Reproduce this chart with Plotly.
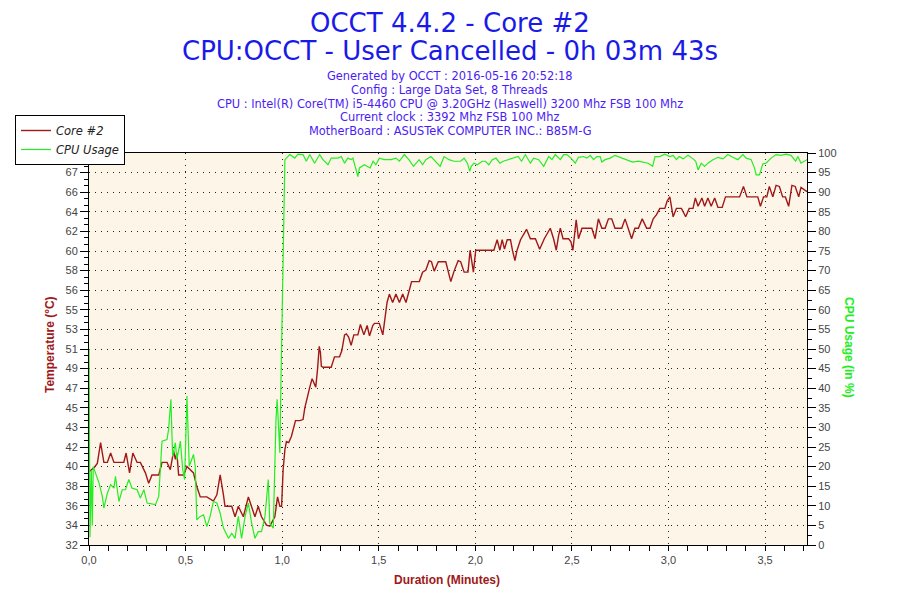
import plotly.graph_objects as go

# Core #2 temperature (deg C) over duration (minutes)
temp_t = [0.000, 0.026, 0.043, 0.060, 0.077, 0.095, 0.112, 0.129, 0.180, 0.192,
          0.210, 0.227, 0.249, 0.266, 0.292, 0.309, 0.326, 0.361, 0.378, 0.404,
          0.421, 0.438, 0.447, 0.455, 0.464, 0.490, 0.507, 0.541, 0.558, 0.576,
          0.610, 0.644, 0.662, 0.679, 0.696, 0.704, 0.739, 0.756, 0.773, 0.799,
          0.825, 0.842, 0.859, 0.876, 0.893, 0.919, 0.936, 0.962, 0.976, 0.988,
          0.997, 1.005, 1.014, 1.022, 1.034, 1.048, 1.057, 1.069, 1.091, 1.108,
          1.117, 1.131, 1.143, 1.155, 1.165, 1.174, 1.183, 1.192, 1.198, 1.203,
          1.212, 1.254, 1.271, 1.297, 1.309, 1.323, 1.332, 1.344, 1.357, 1.371,
          1.392, 1.405, 1.423, 1.440, 1.452, 1.469, 1.478, 1.503, 1.521, 1.532,
          1.543, 1.555, 1.572, 1.589, 1.607, 1.624, 1.641, 1.670, 1.710, 1.727,
          1.744, 1.761, 1.773, 1.787, 1.808, 1.847, 1.859, 1.873, 1.890, 1.911,
          1.924, 1.942, 1.962, 1.973, 1.981, 1.990, 2.002, 2.096, 2.113, 2.127,
          2.139, 2.151, 2.165, 2.182, 2.192, 2.205, 2.216, 2.234, 2.265, 2.285,
          2.311, 2.333, 2.357, 2.388, 2.405, 2.419, 2.431, 2.440, 2.454, 2.483,
          2.495, 2.505, 2.522, 2.534, 2.552, 2.603, 2.620, 2.637, 2.655, 2.672,
          2.689, 2.706, 2.723, 2.758, 2.775, 2.792, 2.809, 2.826, 2.844, 2.864,
          2.887, 2.904, 2.921, 2.938, 2.955, 2.981, 2.993, 3.007, 3.024, 3.041,
          3.067, 3.089, 3.107, 3.127, 3.139, 3.153, 3.173, 3.187, 3.204, 3.221,
          3.239, 3.256, 3.278, 3.295, 3.368, 3.388, 3.406, 3.462, 3.476, 3.492,
          3.509, 3.522, 3.540, 3.557, 3.574, 3.591, 3.605, 3.622, 3.639, 3.656,
          3.674, 3.686, 3.717]
temp_c = [39.0, 39.4, 39.8, 41.8, 39.9, 39.9, 40.8, 39.9, 39.9, 40.8,
          38.9, 40.8, 39.9, 39.9, 38.9, 37.9, 38.7, 38.7, 39.9, 39.9,
          39.2, 41.0, 40.2, 40.8, 38.7, 38.7, 39.5, 38.9, 37.6, 36.6,
          36.6, 36.2, 36.8, 38.7, 36.8, 35.7, 35.7, 34.7, 35.7, 34.7,
          36.6, 35.7, 34.7, 35.7, 34.7, 33.9, 33.8, 34.7, 36.6, 35.7,
          35.7, 39.2, 41.1, 41.9, 41.8, 42.4, 43.1, 43.9, 43.9, 44.0,
          45.1, 46.3, 47.1, 47.9, 47.4, 47.1, 48.8, 51.0, 50.4, 49.1,
          49.0, 49.0, 50.0, 50.0, 50.6, 52.1, 52.2, 51.9, 51.1, 52.1,
          52.1, 53.1, 52.1, 53.0, 52.0, 53.0, 53.2, 53.2, 52.1, 53.6,
          55.2, 56.0, 55.2, 56.0, 55.2, 56.0, 55.2, 57.2, 57.2, 58.1,
          58.3, 59.2, 59.1, 58.2, 59.1, 59.1, 58.1, 57.2, 58.2, 59.2,
          59.1, 58.1, 58.1, 60.2, 59.2, 58.1, 60.2, 60.2, 61.2, 60.2,
          61.2, 60.3, 61.2, 61.2, 60.2, 59.2, 60.2, 61.2, 62.2, 61.3,
          61.3, 60.3, 61.3, 62.3, 61.3, 60.2, 61.6, 62.3, 61.3, 61.3,
          61.0, 60.2, 63.1, 61.3, 62.3, 62.3, 61.3, 63.2, 62.3, 62.3,
          63.2, 63.2, 62.3, 62.3, 63.2, 62.3, 61.3, 62.3, 62.3, 63.2,
          62.3, 62.3, 63.2, 63.6, 64.2, 64.2, 64.9, 65.3, 63.4, 64.2,
          64.2, 63.4, 64.2, 64.2, 65.2, 64.4, 65.2, 64.4, 65.2, 64.4,
          65.2, 64.3, 64.3, 65.3, 65.3, 66.3, 65.3, 65.3, 64.4, 65.3,
          65.3, 66.3, 65.3, 66.4, 66.3, 65.3, 65.3, 64.4, 66.4, 66.3,
          65.3, 66.2, 65.8]

# CPU usage (%) over duration (minutes)
cpu_t = [0.000, 0.005, 0.012, 0.017, 0.022, 0.034, 0.052, 0.069, 0.077, 0.095,
         0.112, 0.129, 0.137, 0.155, 0.172, 0.189, 0.206, 0.223, 0.249, 0.266,
         0.284, 0.301, 0.344, 0.361, 0.378, 0.404, 0.412, 0.424, 0.433, 0.447,
         0.455, 0.473, 0.485, 0.495, 0.507, 0.519, 0.533, 0.541, 0.550, 0.558,
         0.576, 0.593, 0.610, 0.627, 0.644, 0.662, 0.679, 0.696, 0.722, 0.739,
         0.756, 0.773, 0.790, 0.808, 0.825, 0.842, 0.859, 0.876, 0.893, 0.911,
         0.928, 0.936, 0.954, 0.962, 0.968, 0.974, 0.979, 0.983, 0.988, 0.991,
         0.995, 1.001, 1.004, 1.009, 1.014, 1.040, 1.065, 1.082, 1.108, 1.125,
         1.143, 1.168, 1.194, 1.211, 1.237, 1.254, 1.289, 1.306, 1.323, 1.340,
         1.357, 1.366, 1.378, 1.383, 1.392, 1.400, 1.426, 1.455, 1.471, 1.485,
         1.503, 1.529, 1.564, 1.589, 1.607, 1.632, 1.656, 1.680, 1.709, 1.727,
         1.744, 1.770, 1.795, 1.818, 1.838, 1.864, 1.889, 1.924, 1.942, 1.959,
         1.971, 1.979, 1.993, 2.010, 2.036, 2.052, 2.070, 2.088, 2.107, 2.127,
         2.144, 2.168, 2.196, 2.222, 2.239, 2.259, 2.285, 2.302, 2.328, 2.354,
         2.380, 2.397, 2.414, 2.440, 2.457, 2.474, 2.495, 2.517, 2.534, 2.560,
         2.577, 2.595, 2.612, 2.629, 2.646, 2.655, 2.672, 2.698, 2.723, 2.749,
         2.766, 2.784, 2.814, 2.844, 2.869, 2.895, 2.918, 2.930, 2.955, 2.981,
         3.007, 3.024, 3.041, 3.055, 3.076, 3.101, 3.127, 3.141, 3.153, 3.170,
         3.187, 3.204, 3.230, 3.256, 3.282, 3.307, 3.333, 3.359, 3.385, 3.402,
         3.428, 3.445, 3.454, 3.471, 3.488, 3.505, 3.531, 3.557, 3.582, 3.608,
         3.634, 3.658, 3.670, 3.686, 3.717]
cpu_pct = [50.0, 2.0, 19.0, 5.0, 20.0, 18.4, 15.8, 12.4, 9.4, 13.2,
           15.4, 14.5, 17.5, 11.1, 14.1, 14.1, 16.7, 14.5, 14.1, 12.0,
           14.1, 10.7, 10.3, 12.4, 26.5, 26.9, 29.5, 37.2, 22.6, 26.1,
           21.8, 26.5, 19.2, 16.7, 38.0, 20.1, 21.8, 23.1, 20.1, 6.4,
           7.3, 7.7, 4.7, 7.3, 11.1, 10.7, 8.1, 4.3, 1.7, 3.0,
           1.7, 7.3, 1.7, 7.3, 10.7, 5.6, 1.7, 3.4, 3.4, 7.3,
           16.7, 5.6, 4.3, 21.8, 32.0, 37.2, 31.6, 27.8, 23.5, 33.8,
           47.0, 62.0, 70.0, 89.0, 98.3, 99.6, 98.7, 99.7, 99.6, 97.9,
           99.6, 97.4, 99.6, 98.3, 97.0, 98.7, 98.7, 99.1, 97.4, 98.7,
           98.3, 98.7, 96.6, 96.2, 94.0, 96.2, 97.0, 96.2, 97.9, 97.0,
           98.7, 98.3, 98.3, 98.7, 97.9, 99.6, 98.3, 96.6, 98.3, 97.0,
           98.3, 99.1, 97.9, 96.6, 99.1, 98.3, 97.9, 97.9, 98.7, 97.4,
           95.3, 96.6, 97.4, 97.0, 97.9, 97.9, 97.0, 98.3, 98.7, 97.4,
           97.9, 98.3, 98.7, 99.1, 97.9, 99.6, 97.4, 98.7, 98.3, 96.6,
           99.1, 98.3, 99.6, 98.3, 99.6, 99.6, 98.7, 97.4, 98.9, 99.1,
           98.7, 99.4, 98.3, 99.1, 99.1, 97.7, 98.3, 98.7, 99.4, 98.9,
           98.7, 98.3, 97.7, 97.9, 97.7, 97.4, 96.6, 99.1, 99.1, 99.7,
           99.1, 99.4, 98.3, 99.1, 98.5, 99.4, 98.5, 97.9, 95.7, 97.4,
           96.6, 97.4, 98.3, 98.9, 98.5, 99.6, 98.9, 98.3, 99.6, 98.7,
           98.3, 96.2, 94.4, 94.4, 97.2, 97.4, 98.7, 99.6, 99.4, 99.7,
           99.4, 97.9, 99.1, 97.4, 98.3]

temp_tick_labels = ["32", "34", "36", "38", "40", "42", "43", "45", "47", "49", "51",
                    "53", "55", "56", "58", "60", "62", "64", "66", "67", "69"]
temp_min, temp_max = 32, 69.5
x_max = 3.717

subtitle_lines = [
    "Generated by OCCT : 2016-05-16 20:52:18",
    "Config : Large Data Set, 8 Threads",
    "CPU : Intel(R) Core(TM) i5-4460 CPU @ 3.20GHz (Haswell) 3200 Mhz FSB 100 Mhz",
    "Current clock : 3392 Mhz FSB 100 Mhz",
    "MotherBoard : ASUSTeK COMPUTER INC.: B85M-G",
]

# the page body adds an 8px margin, so the figure is 8px smaller and
# plot area sits at x 89..807, y 153..545 in the window
def px_x(x):
    return (x - 89) / 718

def px_y(y):
    return (545 - y) / 392

RED = "#a01818"
GREEN = "#22ee22"
TICKFONT = dict(family="Liberation Sans, Arial", size=11, color="#444444")

fig = go.Figure()
fig.add_trace(go.Scatter(x=cpu_t, y=cpu_pct, name="CPU Usage", yaxis="y2", mode="lines",
                         line=dict(color=GREEN, width=1.2), legendrank=2))
fig.add_trace(go.Scatter(x=temp_t, y=temp_c, name="Core #2", mode="lines",
                         line=dict(color=RED, width=1.4), legendrank=1))

step = (temp_max - temp_min) / (len(temp_tick_labels) - 1)
temp_tickvals = [temp_min + i * step for i in range(len(temp_tick_labels))]

fig.update_layout(
    width=892, height=592,
    margin=dict(l=81, r=93, t=145, b=55, autoexpand=False),
    paper_bgcolor="white",
    plot_bgcolor="#fdf6e8",
    separators=", ",
    showlegend=True,
    legend=dict(x=px_x(15), y=px_y(115), xanchor="left", yanchor="top",
                bgcolor="white", bordercolor="black", borderwidth=1,
                font=dict(family="DejaVu Sans", size=11.5, color="#222222", style="italic"),
                tracegroupgap=0, itemwidth=30),
    xaxis=dict(range=[0, x_max], dtick=0.5, tick0=0, tickformat=".1f",
               showline=True, linecolor="black", linewidth=1, mirror=True,
               ticks="outside", ticklen=5, tickcolor="black", tickfont=TICKFONT,
               showgrid=True, gridcolor="#222222", gridwidth=1, griddash="1px,5px",
               minor=dict(dtick=0.1, ticks="outside", ticklen=5, tickcolor="black", showgrid=False),
               zeroline=False),
    yaxis=dict(range=[temp_min, temp_max], tickvals=temp_tickvals, ticktext=temp_tick_labels,
               showline=True, linecolor="black", linewidth=1,
               ticks="outside", ticklen=8, tickcolor="black", tickfont=TICKFONT,
               minor=dict(dtick=step / 3, tick0=temp_min, ticks="outside", ticklen=4,
                          tickcolor="black", showgrid=False),
               showgrid=False, zeroline=False),
    yaxis2=dict(range=[0, 100], dtick=5, overlaying="y", side="right",
                showline=True, linecolor="black", linewidth=1,
                ticks="outside", ticklen=8, tickcolor="black", tickfont=TICKFONT,
                minor=dict(dtick=2.5, ticks="outside", ticklen=4, tickcolor="black", showgrid=False),
                showgrid=True, gridcolor="#222222", gridwidth=1, griddash="1px,5px",
                zeroline=False),
)

TITLE_FONT = dict(family="DejaVu Sans", size=26, color="#1a1ae8")
SUB_FONT = dict(family="DejaVu Sans", size=11.4, color="#4a1bf5")
annotations = [
    dict(text="OCCT 4.4.2 - Core #2", x=px_x(450), y=px_y(23), font=TITLE_FONT),
    dict(text="CPU:OCCT - User Cancelled - 0h 03m 43s", x=px_x(450), y=px_y(51), font=TITLE_FONT),
]
for i, line in enumerate(subtitle_lines):
    annotations.append(dict(text=line, x=px_x(450), y=px_y(76 + i * 13.8), font=SUB_FONT))
annotations += [
    dict(text="<b>Temperature (°C)</b>", x=px_x(50), y=px_y(345), textangle=-90,
         font=dict(family="Liberation Sans, Arial", size=12, color=RED)),
    dict(text="<b>CPU Usage (in %)</b>", x=px_x(849), y=px_y(347), textangle=90,
         font=dict(family="Liberation Sans, Arial", size=12, color=GREEN)),
    dict(text="<b>Duration (Minutes)</b>", x=px_x(447), y=px_y(580),
         font=dict(family="Liberation Sans, Arial", size=12, color=RED)),
]
for a in annotations:
    a.update(xref="paper", yref="paper", showarrow=False, xanchor="center", yanchor="middle")
fig.update_layout(annotations=annotations)

fig.write_html("out.html")
